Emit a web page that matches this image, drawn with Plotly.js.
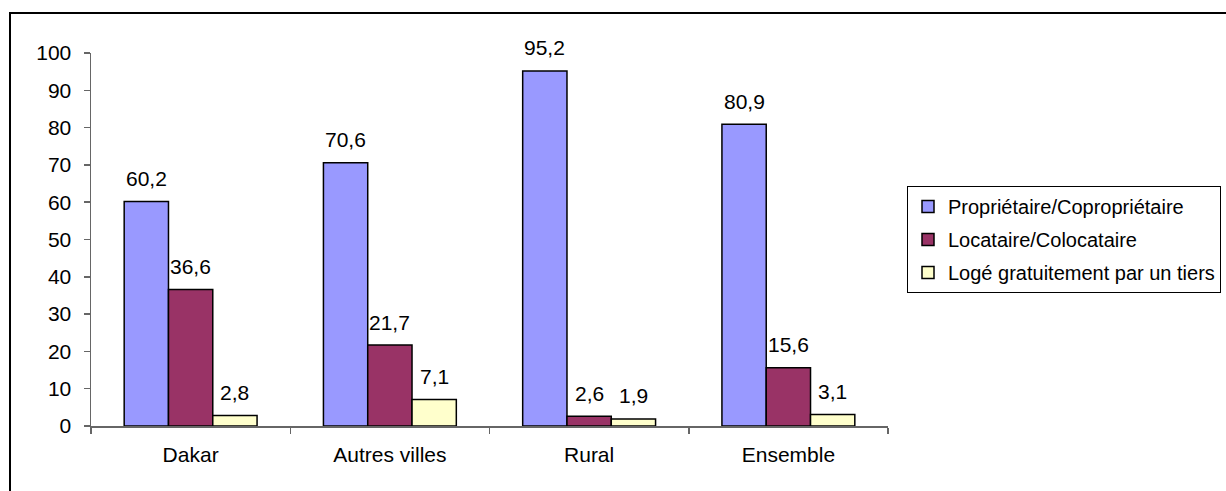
<!DOCTYPE html>
<html>
<head>
<meta charset="utf-8">
<script src="https://cdn.plot.ly/plotly-3.0.1.min.js"></script>
<style>
  html, body { margin: 0; padding: 0; background: #fff; }
  #chart { width: 1226px; height: 491px; }
</style>
</head>
<body>
<div id="chart"></div>
<script>
const categories = ["Dakar", "Autres villes", "Rural", "Ensemble"];
const seriesNames = ["Propriétaire/Copropriétaire", "Locataire/Colocataire", "Logé gratuitement par un tiers"];
const proprietaire = [60.2, 70.6, 95.2, 80.9];
const locataire = [36.6, 21.7, 2.6, 15.6];
const loge = [2.8, 7.1, 1.9, 3.1];
const yTicks = [0, 10, 20, 30, 40, 50, 60, 70, 80, 90, 100];

const colors = ["#9999FF", "#993366", "#FFFFCC"];
const allSeries = [proprietaire, locataire, loge];

const FONT = "Liberation Sans, Arial, sans-serif";
const FS = 21;
const LFS = 20;
const BARGAP = 0.333;

const traces = allSeries.map((vals, i) => ({
  type: "bar",
  name: seriesNames[i],
  x: categories,
  y: vals,
  legendgroup: "g" + i,
  marker: { color: colors[i], line: { color: "#000", width: 1.5 } },
  hoverinfo: "skip"
}));

// data labels above each bar (positions derived from the grouped-bar layout)
const nS = allSeries.length;
const barW = (1 - BARGAP) / nS;
const annotations = [];
allSeries.forEach((vals, i) => {
  vals.forEach((v, j) => {
    annotations.push({
      x: j + (i - (nS - 1) / 2) * barW,
      y: v,
      xref: "x", yref: "y",
      text: String(v).replace(".", ","),
      showarrow: false,
      yanchor: "middle",
      yshift: 23,
      font: { family: FONT, size: FS, color: "#000" }
    });
  });
});

// plot area in px: left 91, right 888, top 53, bottom 426
const L = 91, R = 888, T = 53, B = 426;
const px2x = p => (p - L) / (R - L);
const px2y = p => (B - p) / (B - T);

const layout = {
  width: 1226,
  height: 491,
  margin: { l: L, r: 1226 - R, t: T, b: 491 - B, pad: 0, autoexpand: false },
  paper_bgcolor: "#fff",
  plot_bgcolor: "#fff",
  font: { family: FONT, size: FS, color: "#000" },
  barmode: "group",
  bargap: BARGAP,
  bargroupgap: 0,
  showlegend: true,
  legend: {
    x: px2x(907), y: px2y(186),
    xanchor: "left", yanchor: "top",
    bordercolor: "#000", borderwidth: 1,
    bgcolor: "#fff",
    font: { family: FONT, size: LFS, color: "#000" },
    tracegroupgap: 4,
    traceorder: "grouped"
  },
  xaxis: {
    type: "category",
    showline: true, linecolor: "#666", linewidth: 1.5,
    ticks: "outside", tickson: "boundaries", ticklen: 6, tickcolor: "#666", tickwidth: 1.5,
    ticklabelstandoff: 9,
    showgrid: false, zeroline: false,
    tickfont: { family: FONT, size: FS, color: "#000" }
  },
  yaxis: {
    range: [0, 100],
    tickvals: yTicks,
    ticktext: yTicks.map(String),
    showline: true, linecolor: "#666", linewidth: 1.5,
    ticks: "outside", ticklen: 6, tickcolor: "#666", tickwidth: 1.5,
    ticklabelstandoff: 8,
    showgrid: false, zeroline: false,
    tickfont: { family: FONT, size: FS, color: "#000" }
  },
  annotations: annotations,
  shapes: [{
    type: "rect", xref: "paper", yref: "paper", layer: "below",
    x0: px2x(10), x1: px2x(1240), y0: px2y(505), y1: px2y(13),
    line: { color: "#000", width: 2 }, fillcolor: "rgba(0,0,0,0)"
  }]
};

Plotly.newPlot("chart", traces, layout, { staticPlot: true, displayModeBar: false });
</script>
</body>
</html>
